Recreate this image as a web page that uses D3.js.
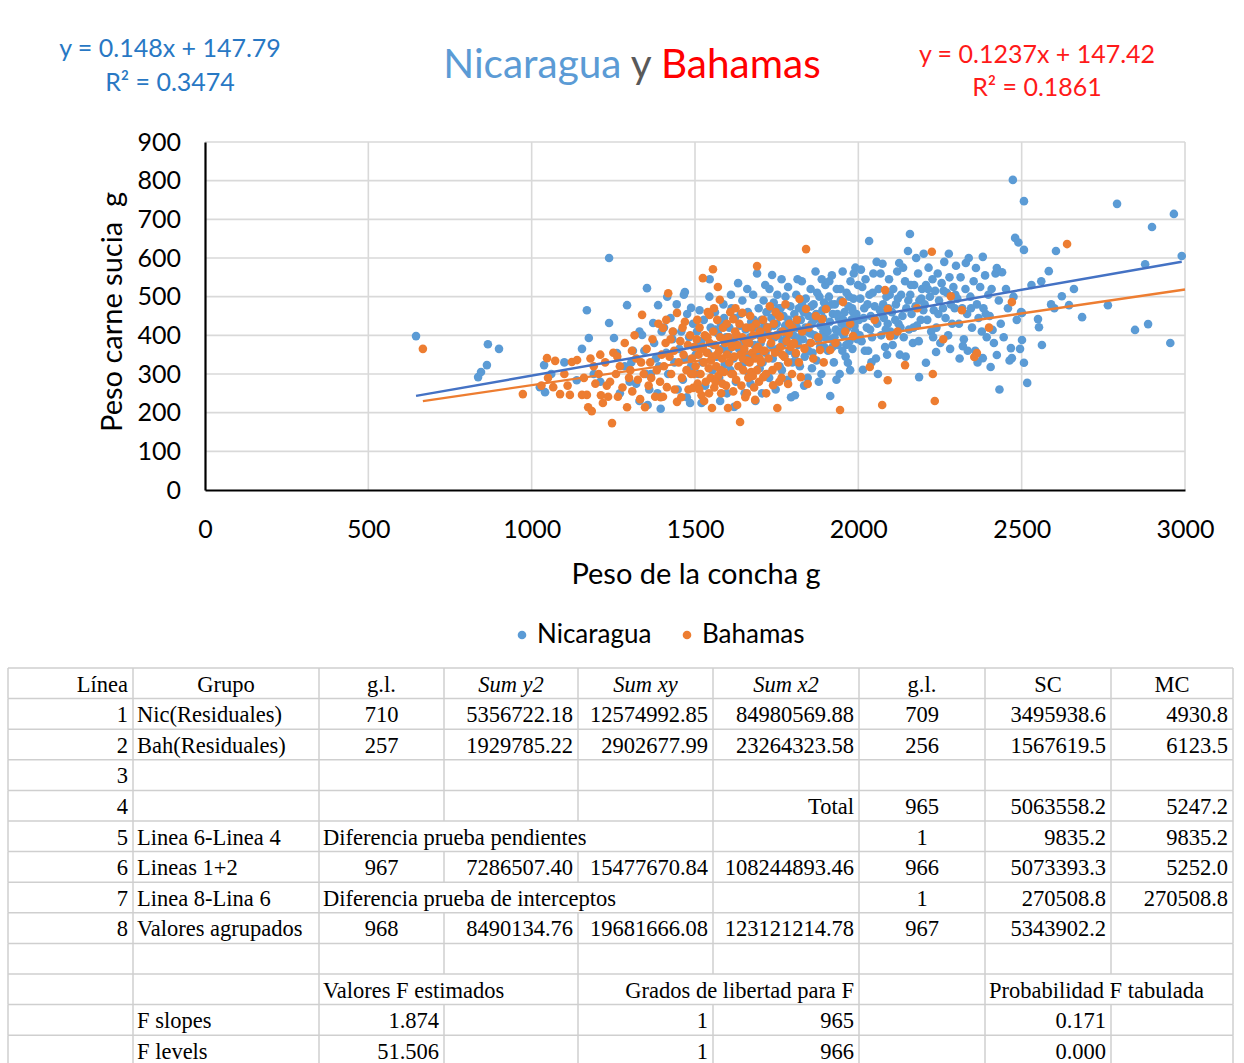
<!DOCTYPE html>
<html><head><meta charset="utf-8">
<script src="https://cdn.jsdelivr.net/npm/d3@7/dist/d3.min.js"></script>
<style>body{margin:0;background:#fff}svg{display:block}</style>
</head><body>
<svg id="chart" width="1244" height="1063"></svg>
<script>
// ---------- DATA ----------
const nicaragua = [
[646,398],[836,292],[845,305],[863,323],[866,377],[900,365],
[1025,266],[1038,323],[1041,253],[1060,300],[1100,330],[1138,284],[1154,365],[1169,465],[1175,393],[1190,300],[1210,280],[1237,600],[1237,432],[1252,393],[1261,354],[1270,250],[1285,320],[1292,478],[1300,280],[1310,360],[1330,230],[1338,401],[1350,300],[1353,522],[1360,260],[1372,432],[1380,340],[1387,478],[1395,210],[1305,330],[1320,275],[1345,360],[1365,300],[1385,250],[1398,410],[1355,220],[1330,410],[1375,380],[1390,320],
[1405,420],[1412,355],[1418,300],[1425,445],[1431,390],[1433,409],[1437,330],[1444,480],[1452,365],[1458,410],[1463,285],[1469,512],[1470,340],[1475,240],[1476,455],[1482,395],[1488,471],[1488,320],[1494,430],[1497,370],[1447,260],[1415,500],[1466,505],[1485,225],
[1502,350],[1506,410],[1510,300],[1514,465],[1519,385],[1523,330],[1527,440],[1531,270],[1536,395],[1540,355],[1544,500],[1548,420],[1553,310],[1557,375],[1561,460],[1566,345],[1570,405],[1574,290],[1579,430],[1583,365],[1587,480],[1591,325],[1595,395],[1598,250],[1520,225],[1545,545],[1562,415],[1577,230],[1589,445],[1508,385],
[1602,360],[1605,420],[1608,310],[1612,470],[1615,385],[1618,340],[1622,445],[1625,280],[1628,400],[1632,535],[1635,365],[1638,425],[1642,320],[1645,490],[1648,380],[1652,250],[1655,415],[1658,350],[1662,460],[1665,300],[1668,395],[1672,435],[1675,340],[1678,505],[1682,375],[1685,230],[1688,420],[1692,355],[1695,470],[1698,315],[1610,505],[1620,215],[1640,455],[1660,520],[1670,275],[1680,440],[1690,560],[1603,395],[1650,330],[1697,400],
[1701,380],[1704,440],[1707,330],[1710,490],[1713,405],[1716,355],[1719,460],[1722,300],[1725,420],[1728,520],[1731,375],[1734,445],[1736,556],[1738,340],[1741,485],[1744,395],[1747,260],[1750,430],[1753,365],[1756,470],[1759,320],[1762,410],[1765,545],[1768,385],[1771,450],[1774,345],[1777,500],[1780,395],[1783,285],[1786,440],[1789,360],[1792,475],[1795,415],[1798,330],[1705,250],[1715,530],[1727,290],[1745,360],[1755,400],[1766,310],[1776,425],[1785,525],[1794,240],[1712,425],[1732,470],[1752,505],[1772,380],[1790,410],[1742,425],[1762,470],
[1801,400],[1804,455],[1806,245],[1807,350],[1810,505],[1812,420],[1815,375],[1818,470],[1821,320],[1824,440],[1827,540],[1830,390],[1833,460],[1836,345],[1839,495],[1842,410],[1845,290],[1848,450],[1851,380],[1854,520],[1857,430],[1860,355],[1863,480],[1866,400],[1869,565],[1872,335],[1875,445],[1878,390],[1881,500],[1884,425],[1887,300],[1890,465],[1893,410],[1896,370],[1899,530],[1808,430],[1819,395],[1828,480],[1838,420],[1847,360],[1856,475],[1865,440],[1874,510],[1883,370],[1892,445],[1898,395],[1814,545],[1834,270],[1853,405],[1871,455],[1888,545],[1816,330],[1858,315],[1879,280],[1895,485],
[1901,420],[1904,470],[1907,360],[1910,500],[1913,435],[1914,243],[1916,390],[1919,555],[1922,455],[1925,330],[1928,480],[1931,415],[1934,520],[1937,375],[1940,445],[1943,300],[1946,490],[1949,430],[1952,565],[1955,400],[1958,460],[1961,345],[1964,510],[1967,420],[1968,329],[1970,475],[1973,385],[1976,540],[1979,440],[1982,365],[1985,495],[1988,425],[1991,575],[1994,455],[1997,390],[1906,410],[1918,480],[1927,395],[1936,455],[1945,520],[1954,440],[1963,375],[1972,500],[1981,470],[1990,410],[1999,530],[1911,540],[1933,285],[1951,360],[1975,310],[1986,560],[1921,370],[1942,410],[1960,420],[1984,460],
[2002,440],[2006,495],[2010,385],[2014,311],[2018,470],[2022,545],[2026,420],[2030,360],[2033,644],[2034,505],[2038,450],[2042,395],[2046,560],[2050,475],[2054,340],[2058,430],[2062,520],[2066,465],[2070,400],[2074,585],[2078,445],[2082,370],[2086,500],[2090,430],[2094,545],[2098,410],[2004,400],[2012,525],[2020,360],[2028,480],[2036,415],[2044,510],[2052,440],[2060,300],[2068,560],[2076,480],[2084,415],[2092,470],[2008,570],[2040,330],[2056,590],[2072,455],[2088,350],[2096,505],[2016,445],
[2103,460],[2107,520],[2111,400],[2115,480],[2119,565],[2123,430],[2125,587],[2127,350],[2131,505],[2135,450],[2139,395],[2143,540],[2147,470],[2152,618],[2155,415],[2158,662],[2159,505],[2163,455],[2167,380],[2171,530],[2175,475],[2179,425],[2183,560],[2186,292],[2187,490],[2191,440],[2195,520],[2199,465],[2105,375],[2113,440],[2121,495],[2129,420],[2137,575],[2145,345],[2153,490],[2161,530],[2169,420],[2177,600],[2185,385],[2193,495],
[2200,611],[2203,480],[2207,329],[2207,530],[2211,440],[2215,575],[2219,500],[2223,410],[2227,545],[2231,465],[2235,515],[2238,357],[2239,420],[2243,560],[2247,490],[2251,380],[2255,535],[2259,470],[2263,590],[2267,445],[2271,510],[2275,400],[2277,611],[2279,550],[2283,480],[2287,430],[2291,525],[2295,470],[2299,580],[2213,520],[2229,395],[2245,455],[2261,515],[2281,365],[2297,505],
[2303,495],[2308,430],[2313,550],[2318,470],[2320,372],[2323,390],[2328,520],[2329,587],[2333,455],[2338,600],[2343,500],[2348,420],[2353,540],[2358,360],[2360,574],[2363,480],[2368,445],[2373,525],[2378,410],[2381,603],[2381,341],[2383,470],[2388,555],[2393,395],[2398,505],[2310,340],[2335,360],[2365,330],[2390,455],[2345,470],
[2402,450],[2405,318],[2408,520],[2411,414],[2415,380],[2420,560],[2424,574],[2424,349],[2430,490],[2436,430],[2440,563],[2445,395],[2452,520],[2458,470],[2463,335],[2467,367],[2470,341],[2473,802],[2475,500],[2480,652],[2485,440],[2490,640],[2495,365],[2498,460],[2432,260],
[2501,388],[2501,458],[2507,747],[2507,621],[2507,329],[2517,277],[2530,530],[2550,442],[2553,421],[2562,375],[2583,566],[2600,470],[2605,618],[2623,501],[2645,478],[2660,520],[2685,447],[2764,478],[2792,740],[2847,414],[2878,584],[2887,429],[2899,680],[2955,380],[2966,714],[2990,605],[2560,540],[2590,480]
];

const bahamas = [
[667,365],[973,248],
[1030,270],[1047,341],[1066,266],[1072,334],[1087,248],[1100,300],[1117,246],[1123,331],[1139,336],[1154,246],[1160,290],[1169,246],[1173,214],[1184,204],[1190,320],[1050,290],[1110,270],[1180,340],[1195,275],
[1205,300],[1212,245],[1218,225],[1225,330],[1234,241],[1240,280],[1246,173],[1250,355],[1258,300],[1264,241],[1270,320],[1278,265],[1285,380],[1292,214],[1298,290],[1210,350],[1230,270],[1262,345],
[1302,310],[1308,255],[1315,400],[1320,340],[1325,285],[1332,235],[1338,453],[1343,300],[1347,214],[1352,365],[1358,270],[1363,330],[1370,390],[1378,241],[1383,310],[1388,430],[1393,280],[1398,350],[1307,360],[1335,330],[1366,290],[1395,240],
[1402,241],[1405,320],[1402,419],[1410,380],[1414,266],[1418,509],[1422,345],[1427,300],[1432,410],[1438,260],[1445,228],[1445,458],[1450,330],[1455,385],[1460,290],[1465,350],[1469,435],[1474,310],[1480,260],[1485,400],[1490,340],[1494,264],[1498,370],[1412,440],[1436,360],[1458,240],[1478,375],[1496,300],[1425,390],[1462,420],[1488,300],
[1502,320],[1505,390],[1508,275],[1511,350],[1514,420],[1517,300],[1520,245],[1524,548],[1524,370],[1527,330],[1530,400],[1533,280],[1536,355],[1539,460],[1542,315],[1545,453],[1545,380],[1548,290],[1552,212],[1552,345],[1555,571],[1556,410],[1559,265],[1562,375],[1565,320],[1568,440],[1570,525],[1571,295],[1574,360],[1576,492],[1577,395],[1580,250],[1583,340],[1586,420],[1589,305],[1592,380],[1595,270],[1598,350],[1507,440],[1518,365],[1528,230],[1538,395],[1549,335],[1558,470],[1567,350],[1578,310],[1588,390],[1597,430],[1513,260],[1543,250],[1563,280],[1584,275],
[1601,212],[1602,395],[1605,330],[1608,460],[1611,300],[1614,370],[1617,442],[1617,255],[1620,345],[1623,410],[1626,285],[1629,220],[1630,375],[1633,320],[1636,430],[1638,176],[1639,350],[1642,270],[1645,458],[1645,395],[1648,310],[1651,365],[1654,240],[1657,420],[1660,335],[1663,290],[1666,380],[1669,450],[1672,305],[1675,355],[1678,400],[1681,265],[1684,233],[1684,340],[1687,430],[1690,579],[1690,310],[1693,370],[1696,280],[1699,410],[1606,380],[1616,300],[1627,400],[1646,340],[1656,385],[1667,330],[1677,295],[1688,365],[1698,340],[1624,470],[1659,250],[1673,420],
[1702,330],[1705,390],[1709,292],[1709,440],[1713,360],[1717,300],[1721,420],[1725,340],[1729,475],[1733,380],[1737,310],[1739,271],[1741,430],[1745,355],[1749,400],[1752,212],[1753,320],[1757,450],[1760,448],[1761,370],[1765,290],[1769,410],[1773,345],[1777,480],[1781,385],[1785,274],[1785,330],[1789,430],[1793,370],[1797,300],[1708,360],[1727,400],[1747,460],[1767,350],[1787,405],[1718,250],[1758,280],[1798,420],
[1803,380],[1809,354],[1812,440],[1818,330],[1820,494],[1824,292],[1828,410],[1835,365],[1840,623],[1840,468],[1845,274],[1848,420],[1855,380],[1862,340],[1870,450],[1877,395],[1883,362],[1889,442],[1894,330],[1901,468],[1914,362],[1944,207],[1953,486],[1960,410],[1984,398],[1975,430],[1930,380],
[2035,318],[2073,220],[2082,517],[2090,284],[2090,468],[2097,398],[2143,323],[2225,616],[2228,300],[2234,230],[2283,501],[2317,465],[2355,344],[2363,354],[2470,486],[2639,636],[2050,440],[2120,410],[2180,470],[2260,390],[2400,420]
];

const xTicks = [0,500,1000,1500,2000,2500,3000];
const yTicks = [0,100,200,300,400,500,600,700,800,900];
const seriesNames = ["Nicaragua","Bahamas"];
const trendNic = {slope:0.148, intercept:147.79, xFrom:646, xTo:2990};
const trendBah = {slope:0.1237, intercept:147.42, xFrom:667, xTo:3000};
const eqNic = ["y = 0.148x + 147.79","R² = 0.3474"];
const eqBah = ["y = 0.1237x + 147.42","R² = 0.1861"];
const titleParts = ["Nicaragua"," y ","Bahamas"];
const xTitle = "Peso de la concha g";
const yTitle = "Peso carne sucia  g";

const tableHeader = ["Línea","Grupo","g.l.","Sum y2","Sum xy","Sum x2","g.l.","SC","MC"];
const tableRows = [
 ["1","Nic(Residuales)","710","5356722.18","12574992.85","84980569.88","709","3495938.6","4930.8"],
 ["2","Bah(Residuales)","257","1929785.22","2902677.99","23264323.58","256","1567619.5","6123.5"],
 ["3","","","","","","","",""],
 ["4","","","","","Total","965","5063558.2","5247.2"],
 ["5","Linea 6-Linea 4","Diferencia prueba pendientes","","","","1","9835.2","9835.2"],
 ["6","Lineas 1+2","967","7286507.40","15477670.84","108244893.46","966","5073393.3","5252.0"],
 ["7","Linea 8-Lina 6","Diferencia prueba de interceptos","","","","1","270508.8","270508.8"],
 ["8","Valores agrupados","968","8490134.76","19681666.08","123121214.78","967","5343902.2",""],
 ["","","","","","","","",""],
 ["","","Valores F estimados","","","Grados de libertad para F","","Probabilidad F tabulada",""],
 ["","F slopes","1.874","","1","965","","0.171",""],
 ["","F levels","51.506","","1","966","","0.000",""]
];
// alignment codes per row (l/c/r)
const headerAlign = "rcccccccc";
const rowAlign = [
 "rlcrrrcrr","rlcrrrcrr","rlcrrrcrr","rlcrrrcrr","rllrrrcrr","rlcrrrcrr",
 "rllrrrcrr","rlcrrrcrr","rlcrrrcrr","rllrrrclr","rlrrrrcrr","rlrrrrcrr"
];

// ---------- LAYOUT ----------
const svg = d3.select("#chart");
const SANS = "Lato, 'Open Sans', sans-serif";
const SERIF = "'Liberation Serif', 'Times New Roman', serif";
const blue = "#5B9BD5", orange = "#ED7D31";

const x = d3.scaleLinear().domain([0,3000]).range([205,1185]);
const y = d3.scaleLinear().domain([0,900]).range([490,142]);

// gridlines
const grid = svg.append("g");
grid.selectAll("line.v").data(xTicks.filter(d=>d>0)).join("line")
  .attr("x1",d=>x(d)).attr("x2",d=>x(d)).attr("y1",y(0)).attr("y2",y(900))
  .attr("stroke","#D9D9D9").attr("stroke-width",1.6);
grid.selectAll("line.h").data(yTicks.filter(d=>d>0)).join("line")
  .attr("x1",x(0)).attr("x2",x(3000)).attr("y1",d=>y(d)).attr("y2",d=>y(d))
  .attr("stroke","#D9D9D9").attr("stroke-width",1.6);

// axes
const yAxis = svg.append("g").attr("transform",`translate(${x(0)},0)`)
  .call(d3.axisLeft(y).tickValues(yTicks).tickSize(0).tickPadding(24).tickFormat(d3.format("d")));
const xAxis = svg.append("g").attr("transform",`translate(0,${y(0)})`)
  .call(d3.axisBottom(x).tickValues(xTicks).tickSize(0).tickPadding(30).tickFormat(d3.format("d")));
[yAxis,xAxis].forEach(g=>{
  g.select(".domain").attr("stroke","#000").attr("stroke-width",2.2);
  g.selectAll("text").attr("font-family",SANS).attr("font-size",25).attr("fill","#000");
});

// points
svg.append("g").selectAll("circle").data(nicaragua).join("circle")
  .attr("cx",d=>x(d[0])).attr("cy",d=>y(d[1])).attr("r",4.3).attr("fill",blue);
svg.append("g").selectAll("circle").data(bahamas).join("circle")
  .attr("cx",d=>x(d[0])).attr("cy",d=>y(d[1])).attr("r",4.3).attr("fill",orange);

// trendlines
[[trendNic,"#4472C4"],[trendBah,orange]].forEach(([t,c])=>{
  svg.append("line")
    .attr("x1",x(t.xFrom)).attr("y1",y(t.slope*t.xFrom+t.intercept))
    .attr("x2",x(t.xTo)).attr("y2",y(t.slope*t.xTo+t.intercept))
    .attr("stroke",c).attr("stroke-width",2.4);
});

// title
const title = svg.append("text").attr("x",632).attr("y",78).attr("text-anchor","middle")
  .attr("font-family",SANS).attr("font-size",40.5);
title.selectAll("tspan").data(titleParts).join("tspan").text(d=>d)
  .attr("fill",(d,i)=>[blue,"#595959","#FF0000"][i]);

// equations
const eqs = [[eqNic,170,[57,91],"#2878C4"],[eqBah,1037,[63,96],"#FF1A1A"]];
eqs.forEach(([lines,cx,ys,col])=>{
  lines.forEach((s,i)=>{
    svg.append("text").attr("x",cx).attr("y",ys[i]).attr("text-anchor","middle")
      .attr("font-family",SANS).attr("font-size",25).attr("fill",col).text(s);
  });
});

// axis titles
svg.append("text").attr("x",696).attr("y",584).attr("text-anchor","middle")
  .attr("font-family",SANS).attr("font-size",29).attr("fill","#000").text(xTitle);
svg.append("text").attr("transform","translate(122,312) rotate(-90)").attr("text-anchor","middle")
  .attr("font-family",SANS).attr("font-size",29).attr("fill","#000")
  .attr("xml:space","preserve").style("white-space","pre").text(yTitle);

// legend
const legend = svg.append("g");
[[522,blue],[687,orange]].forEach(([lx,c],i)=>{
  legend.append("circle").attr("cx",lx).attr("cy",635).attr("r",4.3).attr("fill",c);
  legend.append("text").attr("x",lx+15).attr("y",643).attr("font-family",SANS)
    .attr("font-size",26).attr("fill","#000").text(seriesNames[i]);
});

// ---------- TABLE ----------
const colEdges = [8,133,319,444,578,713,859,985,1111,1233];
const rowTop = 668, rowH = 30.6;
const allRows = [tableHeader, ...tableRows];
const allAlign = [headerAlign, ...rowAlign];
const tbl = svg.append("g");
const lineCol = "#CFCFCF";
const nRows = allRows.length;
for (let r=0; r<=nRows; r++){
  tbl.append("line").attr("x1",colEdges[0]).attr("x2",colEdges[colEdges.length-1])
    .attr("y1",rowTop+r*rowH).attr("y2",rowTop+r*rowH).attr("stroke",lineCol).attr("stroke-width",1.5);
}
allRows.forEach((row,r)=>{
  const top = rowTop + r*rowH;
  const spans = [];
  row.forEach((txt,c)=>{
    if(!txt) return;
    const a = allAlign[r][c];
    const x0 = colEdges[c], x1 = colEdges[c+1];
    let tx, anchor;
    if(a==="l"){tx=x0+4;anchor="start";}
    else if(a==="r"){tx=x1-5;anchor="end";}
    else {tx=(x0+x1)/2;anchor="middle";}
    const t = tbl.append("text").attr("x",tx).attr("y",top+23.5).attr("text-anchor",anchor)
      .attr("font-family",SERIF).attr("font-size",22.5).attr("fill","#000").text(txt);
    if(r===0 && c>=3 && c<=5) t.attr("font-style","italic");
    const w = t.node().getComputedTextLength();
    const s = anchor==="start"?tx:anchor==="end"?tx-w:tx-w/2;
    spans.push([s,s+w]);
  });
  colEdges.forEach((e,i)=>{
    const crossed = spans.some(([s,f])=> s < e-2 && f > e+2);
    if(crossed && i>0 && i<colEdges.length-1) return;
    tbl.append("line").attr("x1",e).attr("x2",e).attr("y1",top).attr("y2",top+rowH)
      .attr("stroke",lineCol).attr("stroke-width",1.5);
  });
});
</script>
</body></html>
